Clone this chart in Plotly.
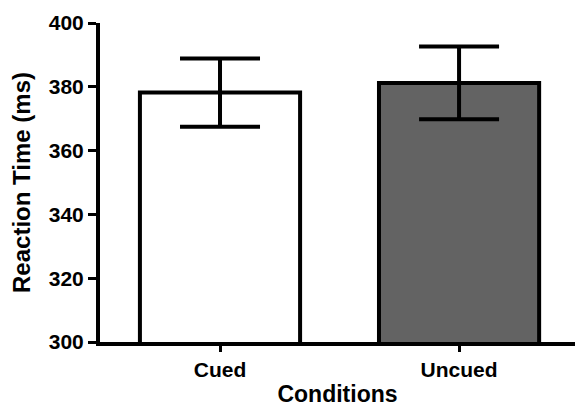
import plotly.graph_objects as go

conditions = ["Cued", "Uncued"]
mean_rt = [378.2, 381.2]
sem_rt = [10.7, 11.4]
bar_colors = ["#ffffff", "#636363"]

fig = go.Figure()
fig.add_trace(go.Bar(
    x=conditions,
    y=mean_rt,
    width=0.67,
    marker=dict(color=bar_colors, line=dict(color="black", width=4)),
    error_y=dict(type="data", array=sem_rt, visible=True, color="black",
                 thickness=4, width=40),
))

font_family = "Liberation Sans, Arial, sans-serif"
fig.update_layout(
    width=576, height=407,
    margin=dict(l=100, r=1, t=23, b=65),
    plot_bgcolor="white", paper_bgcolor="white",
    showlegend=False,
    font=dict(family=font_family, color="black"),
    xaxis=dict(
        type="category", range=[-0.502, 1.485], automargin=False,
        showline=True, linecolor="black", linewidth=4,
        ticks="outside", ticklen=6, tickwidth=3, tickcolor="black",
        tickfont=dict(size=21, family=font_family, weight="bold"),
        title=dict(text="<b>Conditions</b>", font=dict(size=23), standoff=13),
        showgrid=False, zeroline=False,
    ),
    yaxis=dict(
        range=[300, 400], tickvals=[300, 320, 340, 360, 380, 400], automargin=False,
        showline=True, linecolor="black", linewidth=4,
        ticks="outside", ticklen=8, tickwidth=3, tickcolor="black",
        ticklabelstandoff=0,
        tickfont=dict(size=21, family=font_family, weight="bold"),
        title=dict(text="<b>Reaction Time (ms)</b>", font=dict(size=24), standoff=12),
        showgrid=False, zeroline=False,
    ),
)

fig.write_html(
    "out.html",
    config={"displayModeBar": False},
    post_script="document.body.style.margin='0';document.body.style.padding='0';",
)
